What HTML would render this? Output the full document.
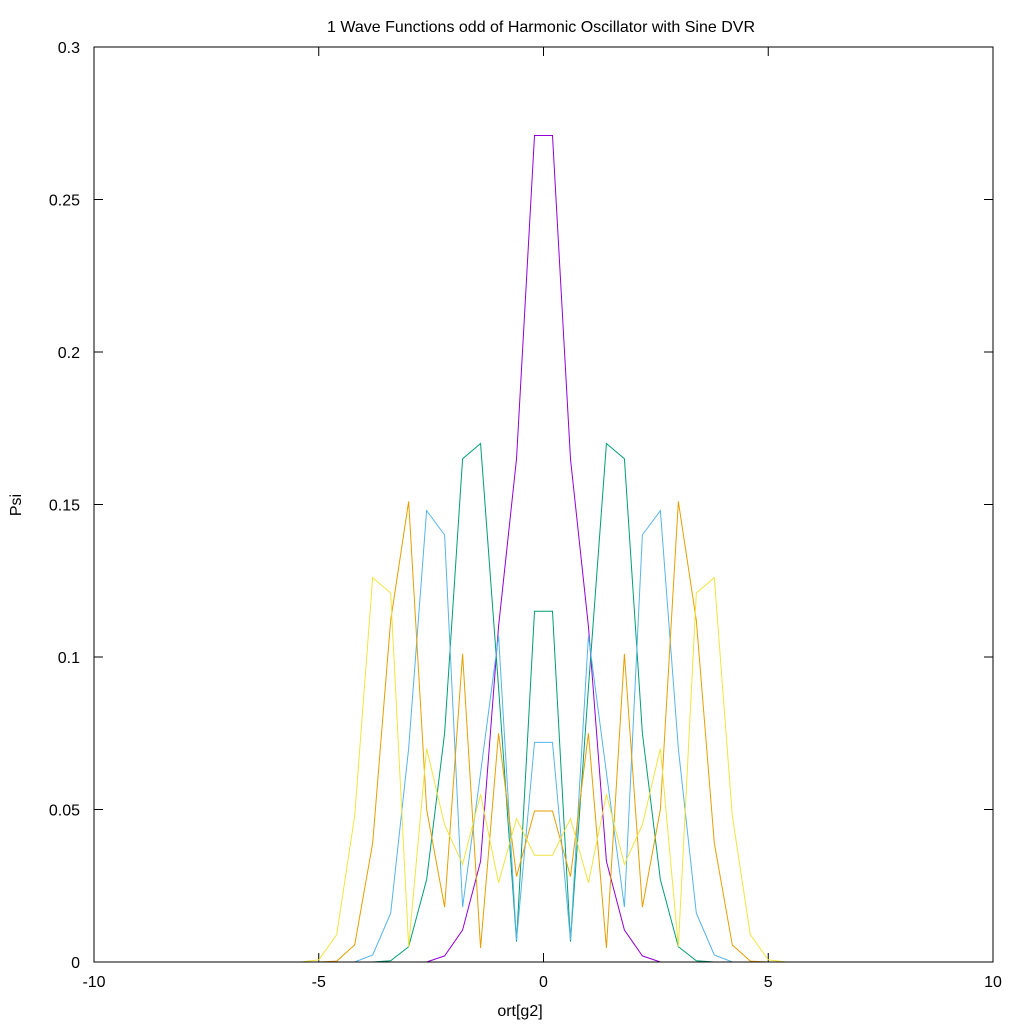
<!DOCTYPE html>
<html><head><meta charset="utf-8"><style>
html,body{margin:0;padding:0;background:#fff;}
svg{display:block;font-family:"Liberation Sans",sans-serif;}
</style></head><body>
<svg id="chart" width="1024" height="1024" viewBox="0 0 1024 1024" xmlns="http://www.w3.org/2000/svg">
<rect x="0" y="0" width="1024" height="1024" fill="#fff"/>
<text x="541" y="32" font-size="16" text-anchor="middle">1 Wave Functions odd of Harmonic Oscillator with Sine DVR</text>
<text x="520" y="1016" font-size="16" text-anchor="middle">ort[g2]</text>
<text x="21" y="505" font-size="16" text-anchor="middle" transform="rotate(-90 21 505)">Psi</text>
<g id="ticks"></g>
<g id="series"></g>
<rect x="94" y="47" width="899" height="915" fill="none" stroke="#000" stroke-width="1"/>
</svg>
<script>
const xTicks = [-10, -5, 0, 5, 10];
const yTicks = [0, 0.05, 0.1, 0.15, 0.2, 0.25, 0.3];
const yTickLabels = ["0", "0.05", "0.1", "0.15", "0.2", "0.25", "0.3"];
const gridHalf = [0.2,0.6,1.0,1.4,1.8,2.2,2.6,3.0,3.4,3.8,4.2,4.6,5.0,5.4];
const purpleHalf = [0.271,0.165,0.11,0.033,0.0105,0.002,0,0,0,0,0,0,0,0];
const greenHalf = [0.115,0.0067,0.09,0.170,0.165,0.075,0.027,0.005,0.0004,0,0,0,0,0];
const blueHalf = [0.072,0.0072,0.107,0.062,0.018,0.140,0.148,0.07,0.016,0.0023,0,0,0,0];
const orangeHalf = [0.0495,0.028,0.075,0.0046,0.101,0.018,0.05,0.151,0.112,0.039,0.0056,0.0003,0,0];
const yellowHalf = [0.035,0.047,0.026,0.055,0.032,0.045,0.07,0.005,0.121,0.126,0.048,0.009,0.0007,0];
const seriesNames = ["state-1","state-2","state-3","state-4","state-5"];
const seriesColors = ["#9400d3","#009e73","#56b4e9","#e69f00","#f0e442"];

const X0=94,X1=993,Y0=962,Y1=47;
function sx(v){return X0+(v+10)/20*(X1-X0);}
function sy(v){return Y0-(v/0.3)*(Y0-Y1);}
const NS="http://www.w3.org/2000/svg";
const tg=document.getElementById('ticks');
xTicks.forEach(function(t){
  const x=sx(t);
  const l1=document.createElementNS(NS,'line');
  l1.setAttribute('x1',x);l1.setAttribute('x2',x);l1.setAttribute('y1',Y0);l1.setAttribute('y2',Y0-9);l1.setAttribute('stroke','#000');
  
  
  tg.appendChild(l1);
  const l2=document.createElementNS(NS,'line');
  l2.setAttribute('x1',x);l2.setAttribute('x2',x);l2.setAttribute('y1',Y1);l2.setAttribute('y2',Y1+9);l2.setAttribute('stroke','#000');
  
  
  tg.appendChild(l2);
  const tx=document.createElementNS(NS,'text');
  tx.setAttribute('x',x);tx.setAttribute('y',Y0+25);tx.setAttribute('font-size','16');tx.setAttribute('text-anchor','middle');
  tx.textContent=String(t);
  
  
  tg.appendChild(tx);
});
yTicks.forEach(function(t,i){
  const y=sy(t);
  const l1=document.createElementNS(NS,'line');
  l1.setAttribute('x1',X0);l1.setAttribute('x2',X0+9);l1.setAttribute('y1',y);l1.setAttribute('y2',y);l1.setAttribute('stroke','#000');
  
  
  tg.appendChild(l1);
  const l2=document.createElementNS(NS,'line');
  l2.setAttribute('x1',X1);l2.setAttribute('x2',X1-9);l2.setAttribute('y1',y);l2.setAttribute('y2',y);l2.setAttribute('stroke','#000');
  
  
  tg.appendChild(l2);
  const tx=document.createElementNS(NS,'text');
  tx.setAttribute('x',X0-14);tx.setAttribute('y',y+6);tx.setAttribute('font-size','16');tx.setAttribute('text-anchor','end');
  tx.textContent=yTickLabels[i];
  
  
  tg.appendChild(tx);
});
const halves=[purpleHalf,greenHalf,blueHalf,orangeHalf,yellowHalf];
const sg=document.getElementById('series');
halves.forEach(function(h,si){
  const pts=[];
  for(let j=h.length-1;j>=0;j--) pts.push([-gridHalf[j],h[j]]);
  for(let j=0;j<h.length;j++) pts.push([gridHalf[j],h[j]]);
  const pl=document.createElementNS(NS,'polyline');
  pl.setAttribute('points',pts.map(function(p){return sx(p[0]).toFixed(2)+','+sy(p[1]).toFixed(2);}).join(' '));
  pl.setAttribute('fill','none');pl.setAttribute('stroke',seriesColors[si]);pl.setAttribute('stroke-width','1');
  
  
  sg.appendChild(pl);
});
</script>
</body></html>
